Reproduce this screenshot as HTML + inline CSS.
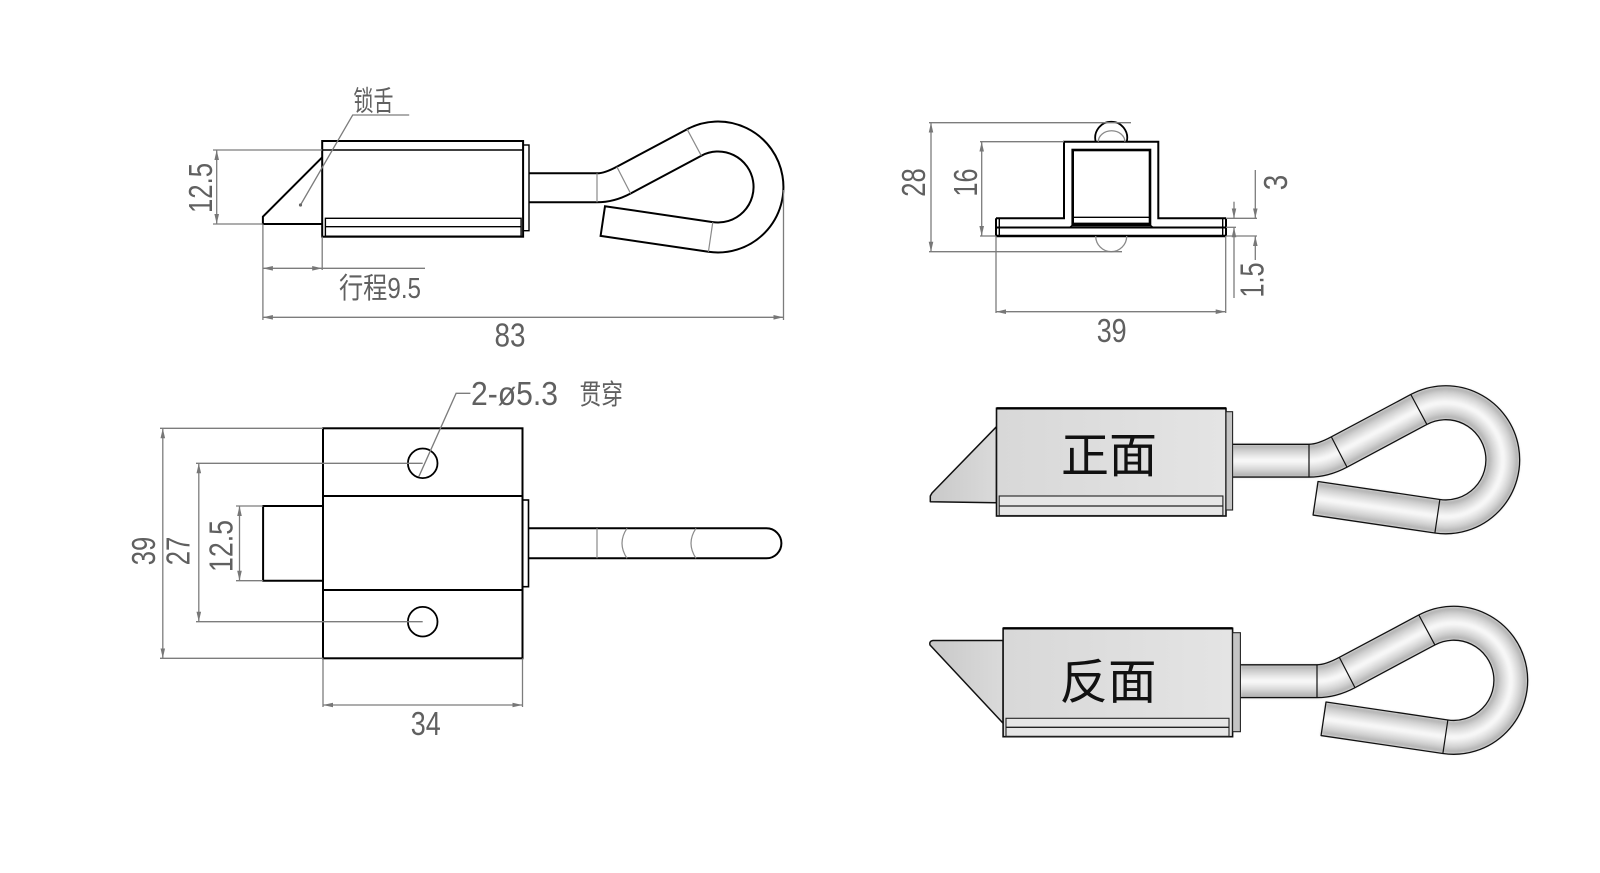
<!DOCTYPE html>
<html>
<head>
<meta charset="utf-8">
<style>
html,body{margin:0;padding:0;background:#fff;}
svg{display:block}
.o{stroke:#000;stroke-width:2;fill:none;stroke-linejoin:miter}
.d{stroke:#7c7c7c;stroke-width:1.3;fill:none}
.t{font-family:"Liberation Sans","Noto Sans CJK SC",sans-serif;font-size:33px;fill:#606060}
.c{font-family:"Liberation Sans","Noto Sans CJK SC",sans-serif;fill:#606060}
.big{font-family:"Liberation Sans","Noto Sans CJK SC",sans-serif;font-size:48px;fill:#111}
</style>
</head>
<body>
<svg width="1600" height="873" viewBox="0 0 1600 873" xmlns="http://www.w3.org/2000/svg">
<defs>
<marker id="ar" viewBox="0 0 10 6" refX="10" refY="3" markerWidth="10" markerHeight="6" markerUnits="userSpaceOnUse" orient="auto-start-reverse">
<path d="M0,0.7 L10,3 L0,5.3 z" fill="#777"/>
</marker>
<linearGradient id="gTong" x1="0" y1="0" x2="1" y2="0">
<stop offset="0" stop-color="#c9c9c9"/><stop offset="1" stop-color="#dadada"/>
</linearGradient>
<linearGradient id="gBody" x1="0" y1="0" x2="1" y2="0">
<stop offset="0" stop-color="#d8d8d8"/><stop offset="1" stop-color="#e4e4e4"/>
</linearGradient>
<filter id="soft" filterUnits="userSpaceOnUse" x="450" y="50" width="420" height="260">
<feGaussianBlur stdDeviation="1.1"/>
</filter>
<path id="cl" d="M529,187.8 H597 Q609.4,187.8 623.7,180.1 L694.2,142.5 A50.5,50.5 0 1 1 710.6,236.9 L602.8,221"/>
</defs>

<!-- ================= TOP-LEFT VIEW ================= -->
<g class="o">
<rect x="322.2" y="141" width="200.9" height="95.7"/>
<line x1="322.2" y1="150" x2="523.1" y2="150" stroke-width="1.4"/>
<rect x="325.4" y="218.3" width="195.7" height="17.9" stroke-width="1.4"/>
<line x1="325.4" y1="226.7" x2="521.1" y2="226.7" stroke-width="1.4"/>
<rect x="523.1" y="145" width="5.9" height="85.7" stroke-width="1.4"/>
<polyline points="322.2,157.3 262.9,216.7 262.9,224 322.2,224"/>
<path d="M529,173.3 L597,173.3 Q604.5,173.3 616.8,166.7 L687.1,129.2 A65.5,65.5 0 1 1 708.4,251.8 L600.6,235.9 L605,206.2 L712.8,222.1 A35.5,35.5 0 1 0 701.3,155.7 L630.6,193.5 Q614,202.3 597,202.3 L529,202.3"/>
</g>
<path d="M597,173.3 V202.3 M616.8,166.7 L630.6,193.5 M687.1,129.2 L701.3,155.7 M712.8,222.1 L708.4,251.8" stroke="#8a8a8a" stroke-width="1.2" fill="none"/>

<g class="d">
<line x1="213" y1="150" x2="322.2" y2="150"/>
<line x1="213" y1="224" x2="262.9" y2="224"/>
<line x1="216.7" y1="150" x2="216.7" y2="224" marker-start="url(#ar)" marker-end="url(#ar)"/>
<line x1="262.9" y1="224" x2="262.9" y2="320"/>
<line x1="783.5" y1="190" x2="783.5" y2="320"/>
<line x1="262.9" y1="317.3" x2="783.5" y2="317.3" marker-start="url(#ar)" marker-end="url(#ar)"/>
<line x1="322.2" y1="236.7" x2="322.2" y2="270"/>
<line x1="262.9" y1="268.3" x2="322.2" y2="268.3" marker-start="url(#ar)" marker-end="url(#ar)"/>
<line x1="322.2" y1="268.3" x2="425" y2="268.3"/>
<polyline points="300.5,205 352.7,115 409.2,115"/>
</g>
<circle cx="300.5" cy="205" r="1.6" fill="#666"/>

<text class="t" transform="translate(200,188) rotate(-90)" x="0" y="11.8" text-anchor="middle" textLength="50" lengthAdjust="spacingAndGlyphs">12.5</text>
<text class="t" x="510" y="346.5" text-anchor="middle" textLength="31" lengthAdjust="spacingAndGlyphs">83</text>
<text class="c" x="339" y="298" font-size="29" textLength="82" lengthAdjust="spacingAndGlyphs">行程9.5</text>
<text class="c" x="353.5" y="110.5" font-size="28" textLength="40" lengthAdjust="spacingAndGlyphs">锁舌</text>

<!-- ================= TOP-RIGHT VIEW ================= -->
<g class="o">
<path d="M996,218.3 H1064 V141.7 H1158.3 V218.3 H1226"/>
<line x1="996" y1="218.3" x2="996" y2="236"/>
<line x1="999.3" y1="218.3" x2="999.3" y2="236" stroke-width="1.4"/>
<line x1="1226" y1="218.3" x2="1226" y2="236"/>
<line x1="1222.7" y1="218.3" x2="1222.7" y2="236" stroke-width="1.4"/>
<line x1="996" y1="227.5" x2="1226" y2="227.5"/>
<line x1="996" y1="236" x2="1226" y2="236" stroke-width="2.4"/>
<rect x="1072.7" y="150" width="77.3" height="75" stroke-width="2.6"/>
<line x1="1072.7" y1="217.3" x2="1150" y2="217.3" stroke-width="1.3"/>
<line x1="1072.7" y1="223.3" x2="1150" y2="223.3" stroke-width="1.3"/>
<path d="M1072.7,225 L1069.5,227.5 M1150,225 L1153.2,227.5" stroke-width="1.3"/>
<path d="M1095.7,141.7 A16,16 0 1 1 1126.7,141.7" stroke-width="1.8"/>
</g>
<path d="M1098.3,141.7 A13.3,11 0 0 1 1124.9,141.7" stroke="#8a8a8a" stroke-width="1.3" fill="none"/>
<path d="M1095.7,236 A15.5,15.7 0 0 0 1126.7,236" stroke="#8a8a8a" stroke-width="1.3" fill="none"/>

<g class="d">
<line x1="929" y1="122.7" x2="1131" y2="122.7"/>
<line x1="929" y1="251.7" x2="1122" y2="251.7"/>
<line x1="931" y1="122.7" x2="931" y2="251.7" marker-start="url(#ar)" marker-end="url(#ar)"/>
<line x1="980" y1="141.7" x2="1064" y2="141.7"/>
<line x1="980" y1="236" x2="996" y2="236"/>
<line x1="981.7" y1="141.7" x2="981.7" y2="236" marker-start="url(#ar)" marker-end="url(#ar)"/>
<line x1="1226" y1="218.3" x2="1257" y2="218.3"/>
<line x1="1226" y1="236" x2="1257" y2="236"/>
<line x1="1226" y1="227.3" x2="1236" y2="227.3"/>
<line x1="1255.3" y1="170" x2="1255.3" y2="218.3" marker-end="url(#ar)"/>
<line x1="1255.3" y1="260" x2="1255.3" y2="236" marker-end="url(#ar)"/>
<line x1="1234" y1="201.7" x2="1234" y2="218.3" marker-end="url(#ar)"/>
<line x1="1234" y1="298" x2="1234" y2="227.3" marker-end="url(#ar)"/>
<line x1="996" y1="236" x2="996" y2="313"/>
<line x1="1225.7" y1="236" x2="1225.7" y2="313"/>
<line x1="996" y1="311.7" x2="1225.7" y2="311.7" marker-start="url(#ar)" marker-end="url(#ar)"/>
</g>
<text class="t" transform="translate(913.3,182.5) rotate(-90)" x="0" y="11.8" text-anchor="middle" textLength="28.5" lengthAdjust="spacingAndGlyphs">28</text>
<text class="t" transform="translate(965,182.5) rotate(-90)" x="0" y="11.8" text-anchor="middle" textLength="28" lengthAdjust="spacingAndGlyphs">16</text>
<text class="t" transform="translate(1275,182.5) rotate(-90)" x="0" y="11.8" text-anchor="middle" textLength="15.5" lengthAdjust="spacingAndGlyphs">3</text>
<text class="t" transform="translate(1251.7,280) rotate(-90)" x="0" y="11.8" text-anchor="middle" textLength="35" lengthAdjust="spacingAndGlyphs">1.5</text>
<text class="t" x="1111.7" y="342" text-anchor="middle" textLength="30" lengthAdjust="spacingAndGlyphs">39</text>

<!-- ================= BOTTOM-LEFT VIEW ================= -->
<g class="o">
<rect x="323" y="428.3" width="199.5" height="230"/>
<line x1="323" y1="496" x2="522.5" y2="496"/>
<line x1="323" y1="590" x2="522.5" y2="590"/>
<rect x="522.5" y="500" width="6" height="86.7" stroke-width="1.6"/>
<circle cx="422.7" cy="463.3" r="14.8" stroke-width="1.8"/>
<circle cx="422.7" cy="621.7" r="14.8" stroke-width="1.8"/>
<path d="M528.5,528.3 H766.4 A15,15 0 0 1 766.4,558.3 H528.5"/>
<polyline points="323,506 263.1,506 263.1,580.7 323,580.7"/>
</g>
<path d="M597,528.3 V558.3 M627,528.3 Q617,543.3 627,558.3 M696,528.3 Q686,543.3 696,558.3" stroke="#8a8a8a" stroke-width="1.2" fill="none"/>

<g class="d">
<line x1="236" y1="506" x2="263.1" y2="506"/>
<line x1="236" y1="580.7" x2="263.1" y2="580.7"/>
<line x1="239.5" y1="506" x2="239.5" y2="580.7" marker-start="url(#ar)" marker-end="url(#ar)"/>
<line x1="196" y1="463.3" x2="422.7" y2="463.3"/>
<line x1="196" y1="621.7" x2="422.7" y2="621.7"/>
<line x1="198.8" y1="463.3" x2="198.8" y2="621.7" marker-start="url(#ar)" marker-end="url(#ar)"/>
<line x1="160" y1="428.3" x2="323" y2="428.3"/>
<line x1="160" y1="658.3" x2="323" y2="658.3"/>
<line x1="162.8" y1="428.3" x2="162.8" y2="658.3" marker-start="url(#ar)" marker-end="url(#ar)"/>
<line x1="323" y1="658.3" x2="323" y2="707"/>
<line x1="522.5" y1="658.3" x2="522.5" y2="707"/>
<line x1="323" y1="705" x2="522.5" y2="705" marker-start="url(#ar)" marker-end="url(#ar)"/>
<polyline points="418.8,476.7 456.1,393.3 470.4,393.3"/>
</g>
<text class="t" transform="translate(143.3,551) rotate(-90)" x="0" y="11.8" text-anchor="middle" textLength="28.5" lengthAdjust="spacingAndGlyphs">39</text>
<text class="t" transform="translate(177.5,551) rotate(-90)" x="0" y="11.8" text-anchor="middle" textLength="28.5" lengthAdjust="spacingAndGlyphs">27</text>
<text class="t" transform="translate(220.8,546) rotate(-90)" x="0" y="11.8" text-anchor="middle" textLength="52" lengthAdjust="spacingAndGlyphs">12.5</text>
<text class="t" x="425.8" y="735" text-anchor="middle" textLength="30" lengthAdjust="spacingAndGlyphs">34</text>
<text class="t" x="471" y="405" textLength="87" lengthAdjust="spacingAndGlyphs">2-ø5.3</text>
<text class="c" x="579.5" y="404" font-size="28" textLength="43.5" lengthAdjust="spacingAndGlyphs" fill="#666">贯穿</text>

<!-- ================= 3D FRONT (正面) ================= -->
<polygon points="996.5,426.7 932,493 930.3,496 930.3,501.7 996.5,502.7" fill="url(#gTong)" stroke="#111" stroke-width="1.5" stroke-linejoin="round"/>
<rect x="996.5" y="408.3" width="229.5" height="107.7" fill="url(#gBody)" stroke="#111" stroke-width="1.6"/>
<line x1="996.5" y1="408.3" x2="1226" y2="408.3" stroke="#000" stroke-width="2.4"/>
<rect x="999.2" y="496" width="223.7" height="19.5" fill="#e6e6e6" stroke="#222" stroke-width="1.1"/>
<line x1="999.2" y1="506" x2="1222.9" y2="506" stroke="#222" stroke-width="1.3"/>
<text class="big" x="1109" y="472" text-anchor="middle" textLength="96" lengthAdjust="spacingAndGlyphs">正面</text>

<g transform="translate(1309,460.7) scale(1.13) translate(-597,-187.8)" fill="none" stroke-linejoin="round">
<g filter="url(#soft)">
<use href="#cl" stroke="#ababab" stroke-width="29"/>
<use href="#cl" stroke="#b8b8b8" stroke-width="26"/>
<use href="#cl" stroke="#c5c5c5" stroke-width="22.5"/>
<use href="#cl" stroke="#d1d1d1" stroke-width="19"/>
<use href="#cl" stroke="#dcdcdc" stroke-width="15"/>
<use href="#cl" stroke="#e6e6e6" stroke-width="11"/>
<use href="#cl" stroke="#efefef" stroke-width="7"/>
<use href="#cl" stroke="#f8f8f8" stroke-width="3.5"/>
</g>
<path d="M529,173.3 L597,173.3 Q604.5,173.3 616.8,166.7 L687.1,129.2 A65.5,65.5 0 1 1 708.4,251.8 L600.6,235.9 L605,206.2 L712.8,222.1 A35.5,35.5 0 1 0 701.3,155.7 L630.6,193.5 Q614,202.3 597,202.3 L529,202.3" stroke="#111" stroke-width="1.3" vector-effect="non-scaling-stroke"/>
<path d="M597,173.3 V202.3 M616.8,166.7 L630.6,193.5 M687.1,129.2 L701.3,155.7 M712.8,222.1 L708.4,251.8" stroke="#111" stroke-width="1.2" vector-effect="non-scaling-stroke"/>
</g>
<rect x="1226" y="411.7" width="6.6" height="98.3" fill="#c4c4c4" stroke="#222" stroke-width="1.1"/>

<!-- ================= 3D BACK (反面) ================= -->
<path d="M1003.1,640.5 L933,640.5 Q929,641 930,645 L1003.1,723.3 Z" fill="url(#gTong)" stroke="#111" stroke-width="1.5" stroke-linejoin="round"/>
<rect x="1003.1" y="628.3" width="229.5" height="108.4" fill="url(#gBody)" stroke="#111" stroke-width="1.6"/>
<line x1="1003.1" y1="628.3" x2="1232.6" y2="628.3" stroke="#000" stroke-width="2.4"/>
<rect x="1006" y="718.3" width="223" height="18" fill="#e6e6e6" stroke="#222" stroke-width="1.1"/>
<line x1="1006" y1="727.3" x2="1229" y2="727.3" stroke="#222" stroke-width="1.3"/>
<text class="big" x="1108" y="698.4" text-anchor="middle" textLength="97" lengthAdjust="spacingAndGlyphs">反面</text>

<g transform="translate(1317,681.2) scale(1.13) translate(-597,-187.8)" fill="none" stroke-linejoin="round">
<g filter="url(#soft)">
<use href="#cl" stroke="#ababab" stroke-width="29"/>
<use href="#cl" stroke="#b8b8b8" stroke-width="26"/>
<use href="#cl" stroke="#c5c5c5" stroke-width="22.5"/>
<use href="#cl" stroke="#d1d1d1" stroke-width="19"/>
<use href="#cl" stroke="#dcdcdc" stroke-width="15"/>
<use href="#cl" stroke="#e6e6e6" stroke-width="11"/>
<use href="#cl" stroke="#efefef" stroke-width="7"/>
<use href="#cl" stroke="#f8f8f8" stroke-width="3.5"/>
</g>
<path d="M529,173.3 L597,173.3 Q604.5,173.3 616.8,166.7 L687.1,129.2 A65.5,65.5 0 1 1 708.4,251.8 L600.6,235.9 L605,206.2 L712.8,222.1 A35.5,35.5 0 1 0 701.3,155.7 L630.6,193.5 Q614,202.3 597,202.3 L529,202.3" stroke="#111" stroke-width="1.3" vector-effect="non-scaling-stroke"/>
<path d="M597,173.3 V202.3 M616.8,166.7 L630.6,193.5 M687.1,129.2 L701.3,155.7 M712.8,222.1 L708.4,251.8" stroke="#111" stroke-width="1.2" vector-effect="non-scaling-stroke"/>
</g>
<rect x="1232.6" y="632.7" width="7.8" height="99" fill="#c4c4c4" stroke="#222" stroke-width="1.1"/>

</svg>
</body>
</html>
